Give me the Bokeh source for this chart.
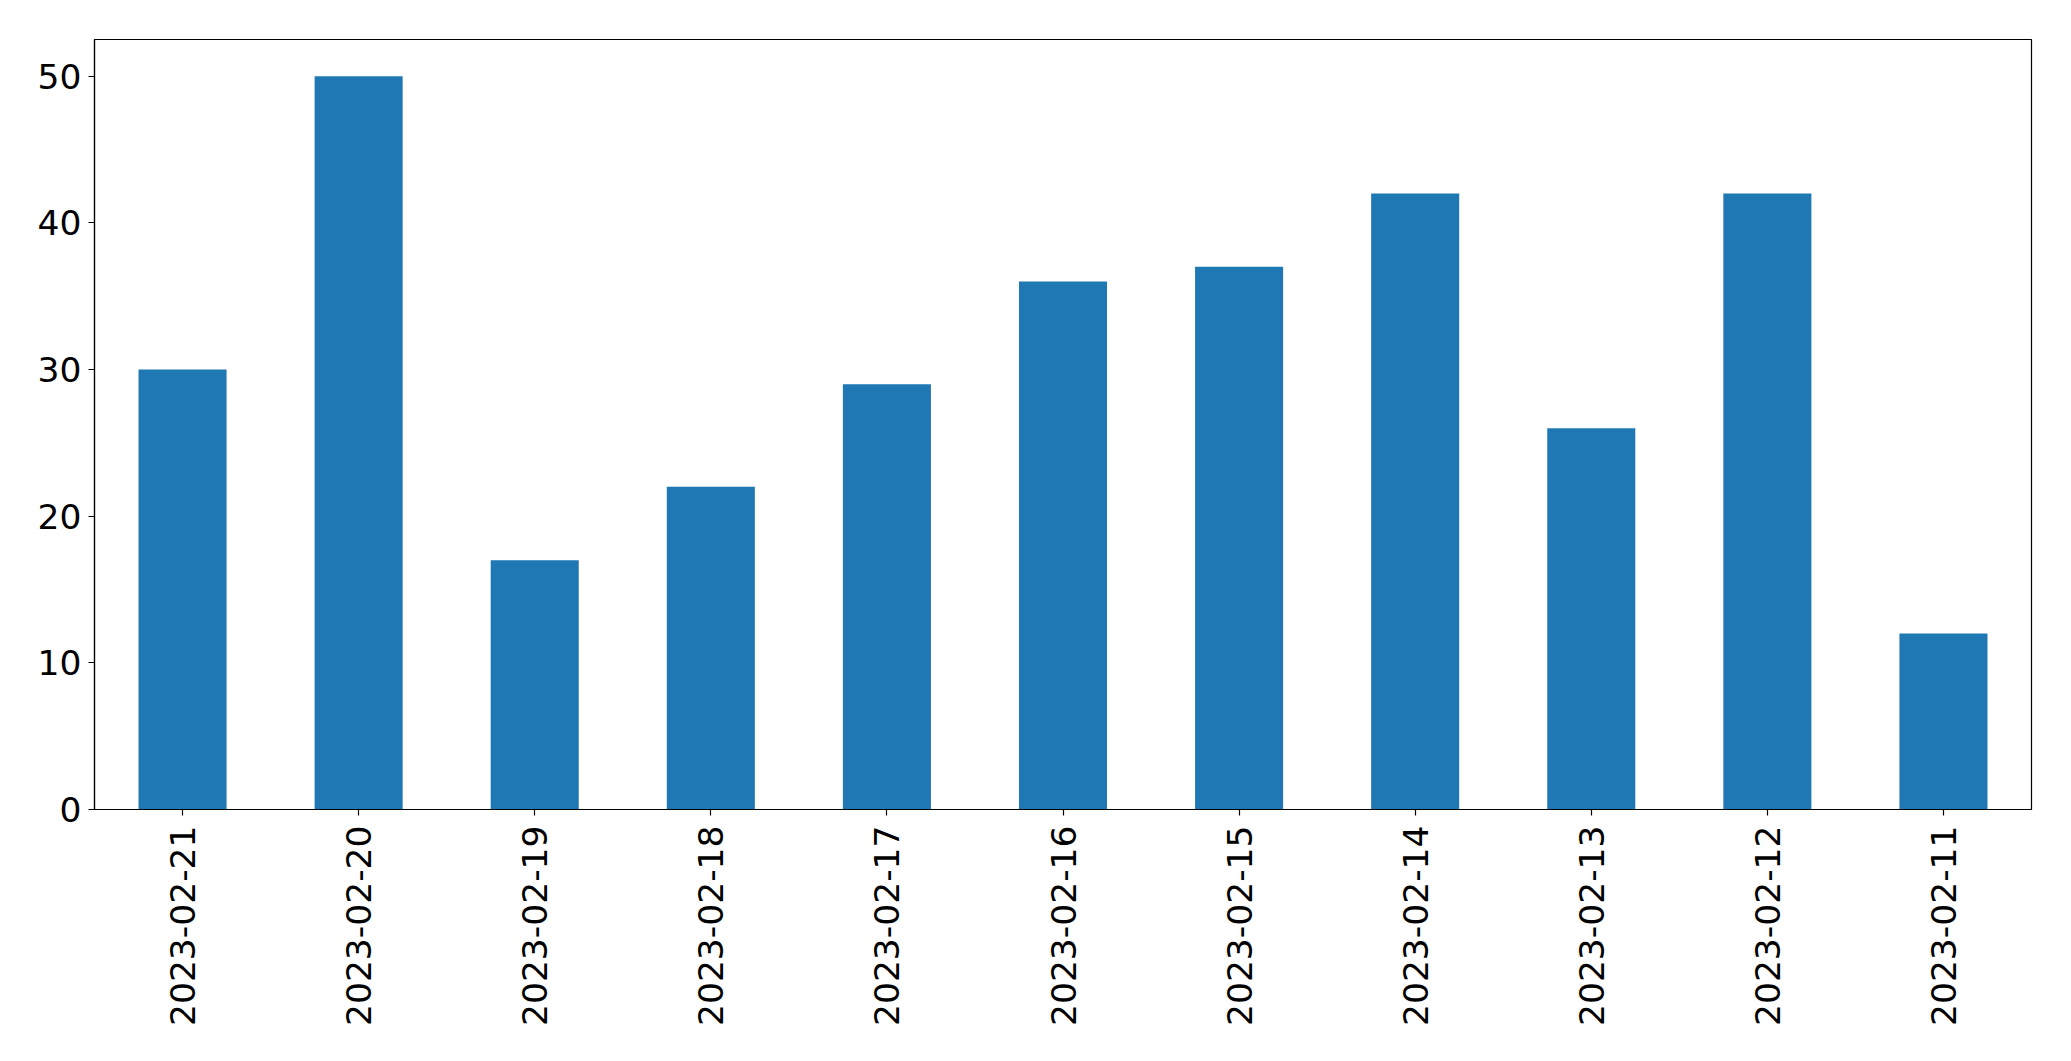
import math
from bokeh.plotting import figure
from bokeh.models import FactorRange, Range1d, FixedTicker
from bokeh.embed import file_html
from bokeh.resources import INLINE

dates = ["2023-02-21", "2023-02-20", "2023-02-19", "2023-02-18", "2023-02-17",
         "2023-02-16", "2023-02-15", "2023-02-14", "2023-02-13", "2023-02-12",
         "2023-02-11"]
counts = [30, 50, 17, 22, 29, 36, 37, 42, 26, 42, 12]
y_ticks = [0, 10, 20, 30, 40, 50]

p = figure(
    x_range=FactorRange(*dates, range_padding=0),
    y_range=Range1d(0, 52.5),
    frame_width=1937, frame_height=770,
    min_border_left=94, min_border_top=39, min_border_right=30, min_border_bottom=225,
    output_backend="svg", toolbar_location=None,
)

p.vbar(x=dates, top=counts, width=0.5, fill_color="#1f77b4", line_color=None)

p.xgrid.visible = False
p.ygrid.visible = False
p.outline_line_color = "black"
p.outline_line_width = 1.2

for ax in (p.xaxis, p.yaxis):
    ax.axis_line_color = "black"
    ax.axis_line_width = 1.2
    ax.major_tick_line_color = "black"
    ax.major_tick_line_width = 1.2
    ax.major_tick_out = 6
    ax.major_tick_in = 0
    ax.minor_tick_line_color = None
    ax.major_label_text_font = "DejaVu Sans"
    ax.major_label_text_font_size = "34.5px"
    ax.major_label_text_color = "black"

p.yaxis.ticker = FixedTicker(ticks=y_ticks)
p.yaxis.major_label_standoff = 7
p.xaxis.major_label_orientation = math.pi / 2
p.xaxis.major_label_standoff = 10

open("out.html", "w").write(file_html(p, INLINE))
